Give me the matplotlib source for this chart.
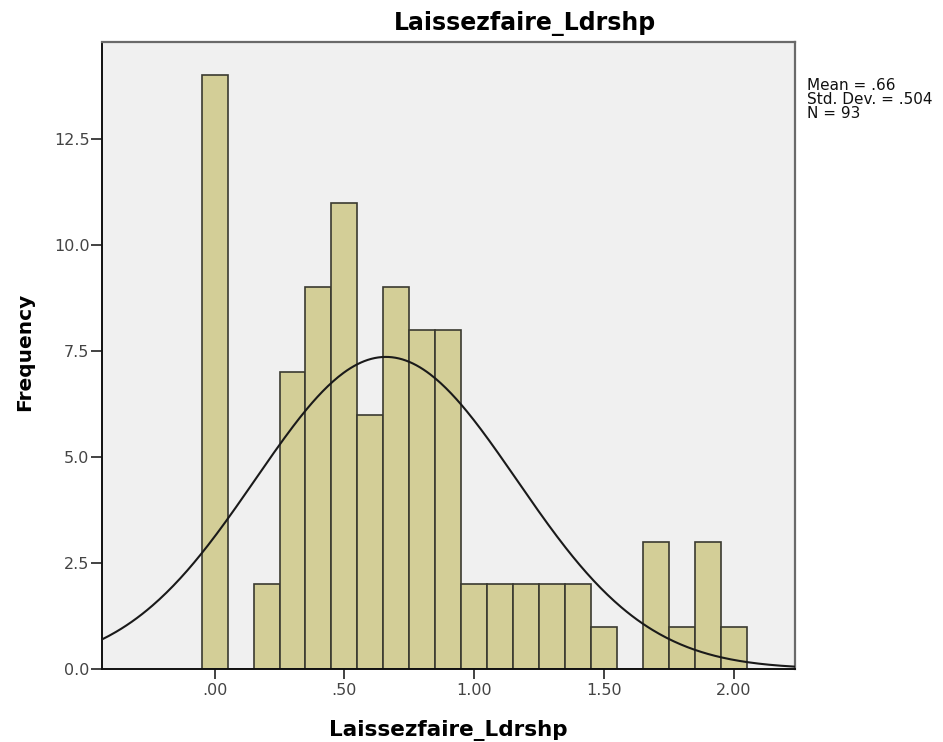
import numpy as np
import matplotlib.pyplot as plt

plt.rcParams['font.family'] = ['DejaVu Sans']

# histogram bins (centres) and counts
bin_centers = [0.0, 0.1, 0.2, 0.3, 0.4, 0.5, 0.6, 0.7, 0.8, 0.9, 1.0,
               1.1, 1.2, 1.3, 1.4, 1.5, 1.6, 1.7, 1.8, 1.9, 2.0]
counts = [14, 0, 2, 7, 9, 11, 6, 9, 8, 8, 2,
          2, 2, 2, 2, 1, 0, 3, 1, 3, 1]
bin_width = 0.1
mean, std, n = 0.66, 0.504, 93

xticks = [0.0, 0.5, 1.0, 1.5, 2.0]
xtick_labels = ['.00', '.50', '1.00', '1.50', '2.00']
yticks = [0.0, 2.5, 5.0, 7.5, 10.0, 12.5]

fig = plt.figure(figsize=(9.43, 7.42), dpi=100)
ax = fig.add_axes([0.1082, 0.0984, 0.7349, 0.845])
ax.set_facecolor('#f0f0f0')

ax.bar(bin_centers, counts, width=bin_width, color='#d3ce97',
       edgecolor='#3a3a30', linewidth=1.2, zorder=2)

# fitted normal curve scaled to counts
xs = np.linspace(-0.434, 2.237, 400)
ys = n * bin_width / (std * np.sqrt(2 * np.pi)) * np.exp(-0.5 * ((xs - mean) / std) ** 2)
ax.plot(xs, ys, color='#1a1a1a', linewidth=1.5, zorder=3)

ax.set_xlim(-0.434, 2.237)
ax.set_ylim(0, 14.79)
ax.set_xticks(xticks)
ax.set_xticklabels(xtick_labels)
ax.set_yticks(yticks)
ax.set_yticklabels(['%.1f' % v for v in yticks])
ax.tick_params(axis='both', direction='out', width=1.2,
               labelsize=11.5, labelcolor='#444444', color='#222222')
ax.tick_params(axis='x', length=7, pad=3)
ax.tick_params(axis='y', length=8, pad=1)

for side in ['left', 'bottom']:
    ax.spines[side].set_linewidth(1.4)
    ax.spines[side].set_color('#111111')
for side in ['top', 'right']:
    ax.spines[side].set_linewidth(1.6)
    ax.spines[side].set_color('#6a6a6a')

fig.text(0.5567, 0.9596, 'Laissezfaire_Ldrshp', fontsize=17, fontweight='bold',
         ha='center', va='baseline')
ax.set_xlabel('Laissezfaire_Ldrshp', fontsize=15.5, fontweight='bold', labelpad=16)
ax.set_ylabel('Frequency', fontsize=14.5, fontweight='bold')
ax.yaxis.set_label_coords(-0.098, 0.505)

fig.text(0.8558, 0.895, 'Mean = .66\nStd. Dev. = .504\nN = 93',
         fontsize=11, va='top', ha='left', linespacing=0.94, color='#111111')

fig.savefig('out.png', dpi=100, facecolor='white')
